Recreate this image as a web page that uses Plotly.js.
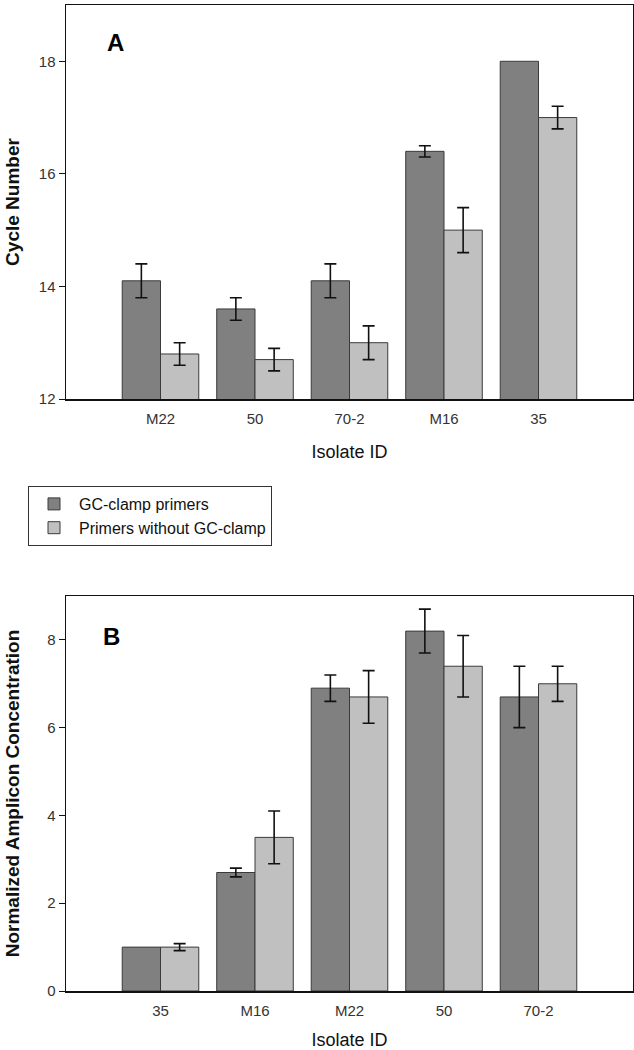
<!DOCTYPE html>
<html>
<head>
<meta charset="utf-8">
<script src="https://cdn.plot.ly/plotly-3.0.1.min.js"></script>
<style>html,body{margin:0;padding:0;background:#fff;}#chart{width:634px;height:1050px;}</style>
</head>
<body>
<div id="chart"></div>
<script>
// Panel A data
const isolatesA = ["M22", "50", "70-2", "M16", "35"];
const gcClampA = [14.1, 13.6, 14.1, 16.4, 18.0];
const gcClampErrA = [0.3, 0.2, 0.3, 0.1, NaN];
const noClampA = [12.8, 12.7, 13.0, 15.0, 17.0];
const noClampErrA = [0.2, 0.2, 0.3, 0.4, 0.2];

// Panel B data
const isolatesB = ["35", "M16", "M22", "50", "70-2"];
const gcClampB = [1.0, 2.7, 6.9, 8.2, 6.7];
const gcClampErrB = [NaN, 0.1, 0.3, 0.5, 0.7];
const noClampB = [1.0, 3.5, 6.7, 7.4, 7.0];
const noClampErrB = [0.08, 0.6, 0.6, 0.7, 0.4];

const seriesNames = ["GC-clamp primers", "Primers without GC-clamp"];
const yTicksA = [12, 14, 16, 18];
const yTicksB = [0, 2, 4, 6, 8];

const darkCol = "#808080", lightCol = "#c0c0c0", edgeCol = "#3a3a3a";
const errStyle = (arr) => ({type: "data", array: arr, visible: true, color: "#111", thickness: 1.6, width: 6});

function barTrace(x, y, err, name, color, xa, ya, showleg) {
  return {type: "bar", x: x, y: y, name: name, error_y: errStyle(err),
    marker: {color: color, line: {color: edgeCol, width: 1}},
    xaxis: xa, yaxis: ya, showlegend: showleg, legendgroup: name};
}

const data = [
  barTrace(isolatesA, gcClampA, gcClampErrA, seriesNames[0], darkCol, "x", "y", true),
  barTrace(isolatesA, noClampA, noClampErrA, seriesNames[1], lightCol, "x", "y", true),
  barTrace(isolatesB, gcClampB, gcClampErrB, seriesNames[0], darkCol, "x2", "y2", false),
  barTrace(isolatesB, noClampB, noClampErrB, seriesNames[1], lightCol, "x2", "y2", false)
];

const W = 634, H = 1050;
const xdom = [66 / W, 633 / W];
const font = {family: "Liberation Sans, Arial, sans-serif", size: 14, color: "#222"};
const axisCommon = {showline: true, linecolor: "#111", linewidth: 1.5, mirror: true,
  showgrid: false, zeroline: false, tickfont: {size: 15, color: "#333"}};
const titleFont = {size: 18, color: "#111"};

const layout = {
  width: W, height: H,
  margin: {l: 0, r: 0, t: 0, b: 0},
  paper_bgcolor: "#fff", plot_bgcolor: "#fff",
  font: font,
  barmode: "group", bargap: 0.19, bargroupgap: 0,
  showlegend: true,
  legend: {x: 28 / W, y: 1 - 486 / H, xanchor: "left", yanchor: "top",
    bordercolor: "#333", borderwidth: 1, bgcolor: "#fff",
    font: {size: 16, color: "#111"}, traceorder: "normal", itemwidth: 40,
    tracegroupgap: 0},
  xaxis: Object.assign({}, axisCommon, {domain: xdom, anchor: "y", type: "category",
    range: [-1, 5], ticks: "", ticklen: 0, ticklabelstandoff: 5,
    title: {text: "Isolate ID", font: titleFont, standoff: 20}}),
  yaxis: Object.assign({}, axisCommon, {domain: [1 - 399 / H, 1 - 5 / H], anchor: "x",
    range: [12, 19], tickvals: yTicksA, ticks: "outside", ticklen: 6, tickcolor: "#111",
    title: {text: "<b>Cycle Number</b>", font: {size: 19, color: "#111"}, standoff: 14}}),
  xaxis2: Object.assign({}, axisCommon, {domain: xdom, anchor: "y2", type: "category",
    range: [-1, 5], ticks: "", ticklen: 0, ticklabelstandoff: 5,
    title: {text: "Isolate ID", font: titleFont, standoff: 20}}),
  yaxis2: Object.assign({}, axisCommon, {domain: [1 - 991 / H, 1 - 596 / H], anchor: "x2",
    range: [0, 9], tickvals: yTicksB, ticks: "outside", ticklen: 6, tickcolor: "#111",
    title: {text: "<b>Normalized Amplicon Concentration</b>", font: {size: 19, color: "#111"}, standoff: 22}}),
  annotations: [
    {text: "<b>A</b>", xref: "paper", yref: "paper", x: 105 / W, y: 1 - 42 / H,
     xanchor: "left", yanchor: "middle", showarrow: false, font: {size: 24, color: "#000"}},
    {text: "<b>B</b>", xref: "paper", yref: "paper", x: 101 / W, y: 1 - 636 / H,
     xanchor: "left", yanchor: "middle", showarrow: false, font: {size: 24, color: "#000"}}
  ]
};

Plotly.newPlot("chart", data, layout, {displayModeBar: false, staticPlot: true});
</script>
</body>
</html>
